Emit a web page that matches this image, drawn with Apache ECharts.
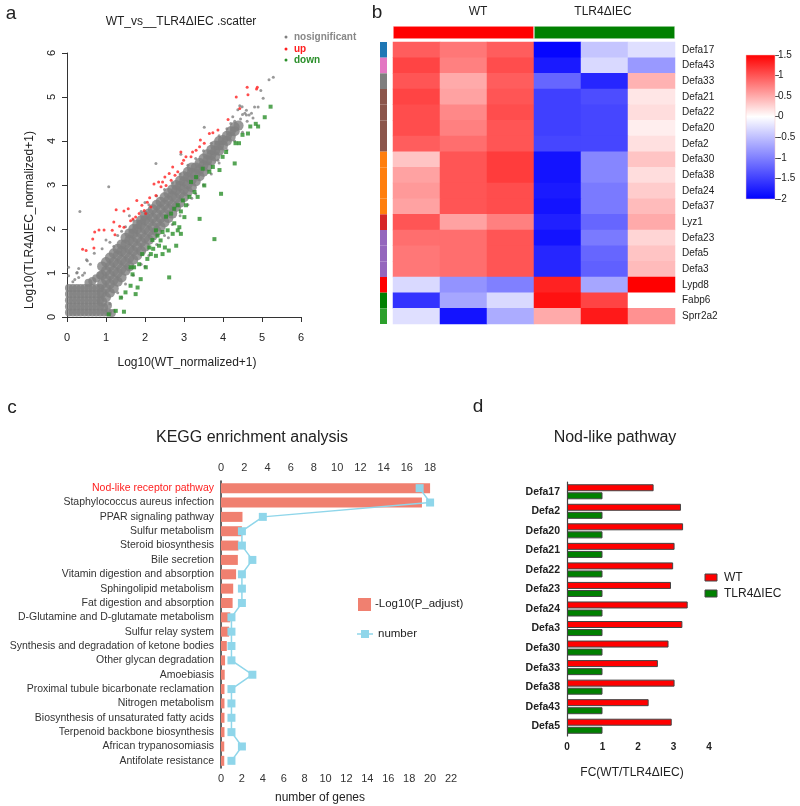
<!DOCTYPE html>
<html><head><meta charset="utf-8">
<script src="https://cdn.jsdelivr.net/npm/echarts@6/dist/echarts.min.js"></script>
<style>html,body{margin:0;padding:0;background:#fff}#c{width:800px;height:806px}</style>
</head><body><div id="c"></div>
<script>
// ---------- Panel a: scatter ----------
const scatterTicks = [0,1,2,3,4,5,6];
const grayBlock = [
[0.05,0.1],[0.15,0.1],[0.25,0.1],[0.35,0.1],[0.45,0.1],[0.55,0.1],[0.65,0.1],[0.75,0.1],[0.85,0.1],
[0.05,0.24],[0.15,0.24],[0.25,0.24],[0.35,0.24],[0.45,0.24],[0.55,0.24],[0.65,0.24],[0.75,0.24],[0.85,0.24],
[0.05,0.38],[0.15,0.38],[0.25,0.38],[0.35,0.38],[0.45,0.38],[0.55,0.38],[0.65,0.38],[0.75,0.38],[0.85,0.38],
[0.05,0.52],[0.15,0.52],[0.25,0.52],[0.35,0.52],[0.45,0.52],[0.55,0.52],[0.65,0.52],[0.75,0.52],[0.85,0.52],
[0.05,0.66],[0.15,0.66],[0.25,0.66],[0.35,0.66],[0.45,0.66],[0.55,0.66],[0.65,0.66],[0.75,0.66],[0.85,0.66],
[0.95,0.1],[1.05,0.1],[1.15,0.09],[0.95,0.22],[1.05,0.26],[0.55,0.78],[0.65,0.82],[0.75,0.88],[0.85,0.95]
];
const grayCore = [
[0.9,0.35],[0.9,0.55],[0.9,0.75],[0.9,0.95],[0.9,1.15],
[1.0,0.45],[1.0,0.65],[1.0,0.85],[1.0,1.05],[1.0,1.25],
[1.1,0.55],[1.1,0.75],[1.1,0.95],[1.1,1.15],[1.1,1.35],
[1.2,0.65],[1.2,0.85],[1.2,1.05],[1.2,1.25],[1.2,1.45],
[1.3,0.8],[1.3,1.0],[1.3,1.2],[1.3,1.4],[1.3,1.55],
[1.4,0.9],[1.4,1.1],[1.4,1.3],[1.4,1.5],[1.4,1.65],
[1.5,1.05],[1.5,1.25],[1.5,1.45],[1.5,1.65],[1.5,1.8],
[1.6,1.15],[1.6,1.35],[1.6,1.55],[1.6,1.75],[1.6,1.9],
[1.7,1.3],[1.7,1.5],[1.7,1.7],[1.7,1.9],[1.7,2.0],
[1.8,1.4],[1.8,1.6],[1.8,1.8],[1.8,2.0],[1.8,2.1],
[1.9,1.5],[1.9,1.7],[1.9,1.9],[1.9,2.1],[1.9,2.2],
[2.0,1.6],[2.0,1.8],[2.0,2.0],[2.0,2.2],[2.0,2.3],
[2.1,1.75],[2.1,1.95],[2.1,2.15],[2.1,2.35],
[2.2,1.85],[2.2,2.05],[2.2,2.25],[2.2,2.45],
[2.3,1.95],[2.3,2.15],[2.3,2.35],[2.3,2.55],
[2.4,2.05],[2.4,2.25],[2.4,2.45],[2.4,2.62],
[2.5,2.15],[2.5,2.35],[2.5,2.55],[2.5,2.72],
[2.6,2.25],[2.6,2.45],[2.6,2.65],[2.6,2.82],
[2.7,2.35],[2.7,2.55],[2.7,2.75],[2.7,2.9],
[2.8,2.5],[2.8,2.7],[2.8,2.88],[2.8,3.0],
[2.9,2.6],[2.9,2.8],[2.9,2.98],[2.9,3.1],
[3.0,2.72],[3.0,2.9],[3.0,3.08],[3.0,3.2],
[3.1,2.85],[3.1,3.02],[3.1,3.18],[3.1,3.3],
[3.2,2.95],[3.2,3.12],[3.2,3.28],[3.2,3.4],
[3.3,3.08],[3.3,3.25],[3.3,3.4],
[3.4,3.2],[3.4,3.35],[3.4,3.5],
[3.5,3.3],[3.5,3.45],[3.5,3.6],
[3.6,3.42],[3.6,3.56],[3.6,3.7],
[3.7,3.55],[3.7,3.68],[3.7,3.8],
[3.8,3.65],[3.8,3.78],[3.8,3.9],
[3.9,3.78],[3.9,3.9],[3.9,4.0],
[4.0,3.9],[4.0,4.02],
[4.1,4.0],[4.1,4.12],
[4.2,4.1],[4.2,4.22],
[4.3,4.22],[4.3,4.32],
[4.4,4.35]
];
const grayEdge = [
[0.3,1.1],[0.5,1.3],[0.6,1.2],[0.7,1.45],[0.9,1.55],[1.0,1.75],[1.1,1.7],[1.2,1.6],[1.3,1.85],[1.4,1.95],
[1.5,2.05],[1.6,2.3],[1.7,2.2],[1.9,2.4],[2.0,2.6],[2.1,2.55],[2.3,2.75],[2.5,2.9],[2.7,3.05],[2.9,3.25],
[3.1,3.45],[3.3,3.6],[3.5,3.78],[3.7,3.95],[3.9,4.12],[4.1,4.28],[4.2,4.4],[4.3,4.45],[4.5,4.6],[4.6,4.7],
[1.1,0.3],[1.3,0.55],[1.5,0.75],[1.7,0.95],[1.9,1.2],[2.1,1.4],[2.3,1.65],[2.5,1.85],[2.7,2.1],[2.9,2.3],
[3.1,2.55],[3.3,2.8],[3.5,3.0],[3.7,3.25],[3.9,3.5],[4.1,3.8],[4.3,4.0],[4.5,4.2],[1.0,0.15],[1.2,0.15],
[1.4,0.45],[2.0,1.15],[2.6,1.8],[3.2,2.7],[0.2,0.85],[0.3,0.9],[0.4,0.95],[0.45,1.0],[0.15,0.8],[0.25,1.0],
[0.33,2.4],[1.07,2.96],[2.28,3.49],[2.92,3.7],[3.52,4.31],[5.18,5.39],[5.29,5.45],[4.97,5.15],[5.03,4.97],
[4.81,4.77],[4.9,4.77],[4.43,4.8],[4.49,4.78],[4.56,4.63],[4.6,4.59],[4.67,4.59],[4.73,4.63],[4.77,4.52],
[4.38,4.71],[4.25,4.55],[0.52,1.28],[0.04,1.13],[0.04,0.94],[0.26,1.01],[3.87,3.56],[4.45,4.5],[4.62,4.45]
];
const upPts = [
[0.4,1.54],[0.49,1.51],[0.69,1.57],[0.66,1.77],[0.82,1.98],[0.95,1.98],[0.71,1.93],[1.16,1.97],[1.2,2.16],[1.23,1.87],
[1.26,2.44],[1.46,2.41],[1.57,2.46],[1.35,2.06],[1.46,2.04],[1.63,2.19],[1.76,2.27],[1.79,2.65],[1.92,2.54],[2.06,2.61],
[2.12,2.71],[2.23,3.02],[2.35,3.07],[2.45,3.07],[2.51,3.18],[2.62,3.26],[2.71,3.41],[2.77,3.22],[2.92,3.75],[2.95,3.49],
[3.05,3.64],[3.18,3.64],[3.31,3.79],[3.4,3.87],[3.42,4.02],[3.65,4.17],[3.74,4.19],[3.87,4.25],[4.13,4.49],[4.34,5.0],
[4.43,4.74],[4.62,5.22],[4.64,5.05],[4.86,5.18],[4.88,5.22],[1.98,2.42],[2.02,2.35],[2.15,2.5],[1.69,2.23],[1.85,2.35],
[2.28,2.76],[2.41,2.96],[2.54,2.99],[2.67,3.11],[2.84,3.3],[2.99,3.56],[3.22,3.75],[3.52,3.95]
];
const downPts = [
[1.07,0.06],[1.25,0.14],[1.46,0.12],[1.38,0.44],[1.5,0.56],[1.63,0.71],[1.76,0.52],[1.81,0.67],[1.89,0.86],[1.68,0.97],
[1.72,1.13],[1.85,1.2],[2.62,0.9],[1.93,1.43],[2.06,1.32],[2.15,1.43],[2.21,1.55],[2.28,1.39],[2.36,1.62],[2.45,1.43],
[2.51,1.58],[2.61,1.51],[2.19,1.75],[2.32,1.85],[2.45,1.93],[2.58,1.97],[2.71,1.89],[2.84,1.97],[2.92,1.89],[2.75,2.13],
[2.88,2.04],[2.54,2.28],[2.67,2.35],[2.75,2.46],[2.84,2.54],[2.97,2.65],[3.05,2.54],[2.92,2.4],[3.14,2.73],[3.27,2.84],
[3.35,2.73],[3.4,2.23],[3.78,1.77],[3.95,2.8],[3.52,2.99],[3.65,3.3],[3.74,3.41],[3.91,3.34],[3.99,3.64],[4.08,3.75],
[4.3,3.49],[4.32,3.95],[4.41,3.95],[4.5,4.14],[4.64,4.17],[4.7,4.33],[4.84,4.39],[4.9,4.33],[5.07,4.54],[5.22,4.78],
[3.31,3.18],[3.18,3.07],[3.48,3.37],[1.63,1.13],[2.02,1.13],[2.11,1.58],[2.4,1.74],[2.8,1.62],[3.01,2.27],[2.28,1.97]
];

// ---------- Panel b: heatmap ----------
const heatCols = ['WT_1','WT_2','WT_3','TLR4_1','TLR4_2','TLR4_3'];
const heatGenes = ['Defa17','Defa43','Defa33','Defa21','Defa22','Defa20','Defa2','Defa30','Defa38','Defa24','Defa37','Lyz1','Defa23','Defa5','Defa3','Lypd8','Fabp6','Sprr2a2'];
const heatValues = [
[0.95,0.8,0.95,-1.95,-0.45,-0.25],
[1.1,0.75,1.05,-1.8,-0.3,-0.8],
[1.0,0.5,0.95,-1.2,-1.7,0.45],
[1.1,0.55,1.0,-1.5,-1.4,0.15],
[1.05,0.7,1.05,-1.5,-1.45,0.2],
[1.05,0.75,1.0,-1.5,-1.45,0.1],
[0.95,0.85,1.0,-1.45,-1.45,0.18],
[0.35,1.0,1.15,-1.85,-0.95,0.35],
[0.55,1.0,1.15,-1.85,-0.95,0.2],
[0.6,1.0,1.05,-1.8,-1.05,0.3],
[0.55,1.0,1.05,-1.85,-1.05,0.4],
[1.0,0.55,0.75,-1.75,-1.2,0.5],
[0.85,0.85,1.0,-1.85,-1.05,0.25],
[0.8,0.85,1.0,-1.7,-1.2,0.35],
[0.8,0.85,1.0,-1.7,-1.25,0.4],
[-0.3,-0.85,-1.0,1.3,-0.7,1.5],
[-1.6,-0.7,-0.3,1.4,1.1,0.0],
[-0.25,-1.85,-0.65,0.5,1.35,0.65]
];
const geneGroupColors = ['#1f77b4','#e377c2','#7f7f7f','#8c564b','#8c564b','#8c564b','#8c564b','#ff7f0e','#ff7f0e','#ff7f0e','#ff7f0e','#d62728','#9467bd','#9467bd','#9467bd','#ff0000','#008000','#2ca02c'];
const groupSizes = [3,3];
const scaleColors = ['#0000FF','#4040FF','#8080FF','#BFBFFF','#FFFFFF','#FFAAAA','#FF5555','#FF0000'];
const scaleTicks = [-2,-1.5,-1,-0.5,0,0.5,1,1.5];

// ---------- Panel c: KEGG ----------
const keggTerms = ['Nod-like receptor pathway','Staphylococcus aureus infection','PPAR signaling pathway','Sulfur metabolism','Steroid biosynthesis','Bile secretion','Vitamin digestion and absorption','Sphingolipid metabolism','Fat digestion and absorption','D-Glutamine and D-glutamate metabolism','Sulfur relay system','Synthesis and degradation of ketone bodies','Other glycan degradation','Amoebiasis','Proximal tubule bicarbonate reclamation','Nitrogen metabolism','Biosynthesis of unsaturated fatty acids','Terpenoid backbone biosynthesis','African trypanosomiasis','Antifolate resistance'];
const keggLogP = [18.0,17.3,1.85,1.8,1.5,1.45,1.3,1.05,1.0,0.8,0.7,0.5,0.35,0.32,0.3,0.3,0.3,0.3,0.28,0.28];
const keggCount = [19,20,4,2,2,3,2,2,2,1,1,1,1,3,1,1,1,1,2,1];
const keggTopTicks = [0,2,4,6,8,10,12,14,16,18];

// ---------- Panel d: Nod-like ----------
const nodGenes = ['Defa17','Defa2','Defa20','Defa21','Defa22','Defa23','Defa24','Defa3','Defa30','Defa33','Defa38','Defa43','Defa5'];
const nodWT = [2.44,3.21,3.27,3.03,2.99,2.93,3.40,3.25,2.86,2.56,3.03,2.30,2.95];
const nodTLR = [1,1,1,1,1,1,1,1,1,1,1,1,1];

const F = '"Liberation Sans", Arial, sans-serif';
const chart = echarts.init(document.getElementById('c'), null, {renderer:'canvas'});

const heatData = [];
heatValues.forEach((row, r) => row.forEach((v, c) => heatData.push([c, r, v])));

function txt(x, y, text, size, opts) {
  opts = opts || {};
  return {type:'text', x:x, y:y, rotation: opts.rot || 0, z: 100,
    style:{text:text, font:(opts.bold?'bold ':'') + size + 'px ' + F, fill: opts.color || '#222',
      align: opts.align || 'center', verticalAlign:'middle'}};
}

const gradStops = scaleColors.slice().reverse().map((c, i) => ({offset: i / (scaleColors.length - 1), color: c}));

const option = {
  animation:false,
  backgroundColor:'#fff',
  grid:[
    {left:67, top:53, width:234, height:264},          // 0 scatter
    {left:393, top:42, width:282, height:282},         // 1 heatmap
    {left:393, top:26, width:282, height:13},          // 2 annotation
    {left:380, top:42, width:7, height:282},           // 3 strip
    {left:746, top:55, width:29, height:144},          // 4 colorbar axis
    {left:221, top:481, width:230, height:287},        // 5 kegg
    {left:567, top:482, width:142, height:254}         // 6 nod
  ],
  xAxis:[
    {gridIndex:0, type:'value', min:0, max:6, interval:1, splitLine:{show:false},
     axisLine:{lineStyle:{color:'#333'}}, axisTick:{length:5, lineStyle:{color:'#333'}},
     axisLabel:{fontFamily:F, fontSize:11, color:'#222', margin:15}},
    {gridIndex:1, type:'category', data:heatCols, show:false},
    {gridIndex:2, type:'value', min:0, max:6, show:false},
    {gridIndex:3, type:'value', min:0, max:1, show:false},
    {gridIndex:4, type:'value', min:0, max:1, show:false, axisLine:{show:false}, axisTick:{show:false}, axisLabel:{show:false}},
    {gridIndex:5, type:'value', position:'bottom', min:0, max:22, interval:2, splitLine:{show:false},
     axisLine:{lineStyle:{color:'#333', width:1.5}}, axisTick:{length:3, lineStyle:{color:'#333'}},
     axisLabel:{fontFamily:F, fontSize:11, color:'#333', margin:5}},
    {gridIndex:5, type:'value', position:'top', min:0, max:19.8, interval:2, splitLine:{show:false},
     axisLine:{lineStyle:{color:'#333', width:1.5}},
     axisTick:{inside:true, length:3, lineStyle:{color:'#333'}, customValues: keggTopTicks.concat([19.8])},
     axisLabel:{fontFamily:F, fontSize:11, color:'#333', margin:8, customValues: keggTopTicks}},
    {gridIndex:6, type:'value', min:0, max:4, interval:1, splitLine:{show:false},
     axisLine:{lineStyle:{color:'#444', width:1.2}}, axisTick:{length:4, lineStyle:{color:'#444'}},
     axisLabel:{fontFamily:F, fontSize:10, fontWeight:'bold', color:'#222', margin:6}}
  ],
  yAxis:[
    {gridIndex:0, type:'value', min:0, max:6, interval:1, splitLine:{show:false},
     axisLine:{lineStyle:{color:'#333'}}, axisTick:{length:5, lineStyle:{color:'#333'}},
     axisLabel:{fontFamily:F, fontSize:11, color:'#222', rotate:90, margin:10}},
    {gridIndex:1, type:'category', data:heatGenes, inverse:true, position:'right',
     axisLine:{show:false}, axisTick:{show:false},
     axisLabel:{fontFamily:F, fontSize:10, color:'#222', margin:7}},
    {gridIndex:2, type:'category', data:[''], show:false},
    {gridIndex:3, type:'category', data:heatGenes, inverse:true, show:false},
    {gridIndex:4, type:'value', min:-2, max:1.5, interval:0.5, position:'right', splitLine:{show:false},
     axisLine:{show:false, onZero:false}, axisTick:{length:4, lineStyle:{color:'#555'}, customValues:scaleTicks},
     axisLabel:{fontFamily:F, fontSize:10, color:'#222', margin:3, customValues:scaleTicks}},
    {gridIndex:5, type:'category', data:keggTerms, inverse:true,
     axisLine:{lineStyle:{color:'#333', width:1.5}}, axisTick:{length:3, alignWithLabel:true, lineStyle:{color:'#333'}},
     axisLabel:{fontFamily:F, fontSize:10.5, color:'#333', margin:7,
       formatter:(v,i)=> i===0 ? '{r|'+v+'}' : v,
       rich:{r:{color:'#ff2020', fontFamily:F, fontSize:10.5}}}},
    {gridIndex:6, type:'category', data:nodGenes, inverse:true,
     axisLine:{lineStyle:{color:'#444', width:1.2}}, axisTick:{length:5, alignWithLabel:true, lineStyle:{color:'#444'}},
     axisLabel:{fontFamily:F, fontSize:10.5, fontWeight:'bold', color:'#222', margin:7}}
  ],
  visualMap:[{
    type:'continuous', seriesIndex:5, min:-2, max:1.5, show:false,
    inRange:{color:scaleColors}
  }],
  series:[
    {type:'scatter', xAxisIndex:0, yAxisIndex:0, data:grayBlock, symbolSize:8, itemStyle:{color:'#808080'}, silent:true},
    {type:'scatter', xAxisIndex:0, yAxisIndex:0, data:grayCore, symbolSize:10, itemStyle:{color:'#808080'}, silent:true},
    {type:'scatter', xAxisIndex:0, yAxisIndex:0, data:grayEdge, symbolSize:3, itemStyle:{color:'#808080'}, silent:true},
    {type:'scatter', xAxisIndex:0, yAxisIndex:0, data:upPts, symbolSize:3, itemStyle:{color:'#ff2020'}, silent:true},
    {type:'scatter', xAxisIndex:0, yAxisIndex:0, data:downPts, symbolSize:4, symbol:'rect', itemStyle:{color:'#2a8f2a'}, silent:true},
    {type:'heatmap', xAxisIndex:1, yAxisIndex:1, data:heatData, itemStyle:{borderWidth:0}},
    {type:'bar', xAxisIndex:2, yAxisIndex:2, stack:'ann', data:[groupSizes[0]], barWidth:'100%', itemStyle:{color:'#ff0000', borderColor:'#fff', borderWidth:0.5}},
    {type:'bar', xAxisIndex:2, yAxisIndex:2, stack:'ann', data:[groupSizes[1]], barWidth:'100%', itemStyle:{color:'#008000', borderColor:'#fff', borderWidth:0.5}},
    {type:'bar', xAxisIndex:3, yAxisIndex:3, barWidth:'100%', data:geneGroupColors.map(c=>({value:1, itemStyle:{color:c}}))},
    {type:'bar', name:'-Log10(P_adjust)', xAxisIndex:6, yAxisIndex:5, data:keggLogP, barWidth:10, itemStyle:{color:'#f08070'}},
    {type:'line', name:'number', xAxisIndex:5, yAxisIndex:5, data:keggCount, symbol:'rect', symbolSize:8,
     lineStyle:{color:'#8fd6ea', width:1.5}, itemStyle:{color:'#8fd6ea'}},
    {type:'bar', name:'WT', xAxisIndex:7, yAxisIndex:6, data:nodWT, barWidth:7, barGap:'15%', itemStyle:{color:'#ff0000', borderColor:'#444', borderWidth:1}},
    {type:'bar', name:'TLR4ΔIEC', xAxisIndex:7, yAxisIndex:6, data:nodTLR, barWidth:7, barGap:'15%', itemStyle:{color:'#008000', borderColor:'#444', borderWidth:1}}
  ],
  graphic:[
    txt(11, 14, 'a', 19),
    txt(377, 13, 'b', 19),
    txt(12, 408, 'c', 19),
    txt(478, 407, 'd', 19),
    txt(181, 22, 'WT_vs__TLR4ΔIEC .scatter', 12),
    txt(187, 363, 'Log10(WT_normalized+1)', 12),
    txt(30, 220, 'Log10(TLR4ΔIEC_normalized+1)', 12, {rot:Math.PI/2}),
    {type:'circle', shape:{cx:286, cy:37, r:1.5}, style:{fill:'#808080'}, z:100},
    {type:'circle', shape:{cx:286, cy:49, r:1.5}, style:{fill:'#ff2020'}, z:100},
    {type:'circle', shape:{cx:286, cy:60, r:1.5}, style:{fill:'#2a8f2a'}, z:100},
    txt(294, 37, 'nosignificant', 10, {bold:true, color:'#888', align:'left'}),
    txt(294, 49, 'up', 10, {bold:true, color:'#ff2020', align:'left'}),
    txt(294, 60, 'down', 10, {bold:true, color:'#2a8f2a', align:'left'}),
    txt(478, 12, 'WT', 12),
    txt(603, 12, 'TLR4ΔIEC', 12),
    {type:'rect', shape:{x:746, y:55, width:29, height:144}, z:50,
     style:{fill:new echarts.graphic.LinearGradient(0,0,0,1,gradStops), stroke:'#f6c0c0', lineWidth:0.5}},
    txt(252, 438, 'KEGG enrichment analysis', 16),
    {type:'rect', shape:{x:358, y:598, width:13, height:13}, style:{fill:'#f08070'}, z:100},
    txt(375, 604, '-Log10(P_adjust)', 11.5, {align:'left'}),
    {type:'line', shape:{x1:357, y1:634, x2:373, y2:634}, style:{stroke:'#8fd6ea', lineWidth:1.5}, z:100},
    {type:'rect', shape:{x:361, y:630, width:8, height:8}, style:{fill:'#8fd6ea'}, z:100},
    txt(378, 634, 'number', 11.5, {align:'left'}),
    txt(320, 798, 'number of genes', 12),
    txt(615, 438, 'Nod-like pathway', 16),
    {type:'rect', shape:{x:705, y:574, width:12, height:7}, style:{fill:'#ff0000', stroke:'#444', lineWidth:1}, z:100},
    txt(724, 578, 'WT', 12, {align:'left'}),
    {type:'rect', shape:{x:705, y:590, width:12, height:7}, style:{fill:'#008000', stroke:'#444', lineWidth:1}, z:100},
    txt(724, 594, 'TLR4ΔIEC', 12, {align:'left'}),
    txt(632, 773, 'FC(WT/TLR4ΔIEC)', 12)
  ]
};
chart.setOption(option);
</script>
</body></html>
